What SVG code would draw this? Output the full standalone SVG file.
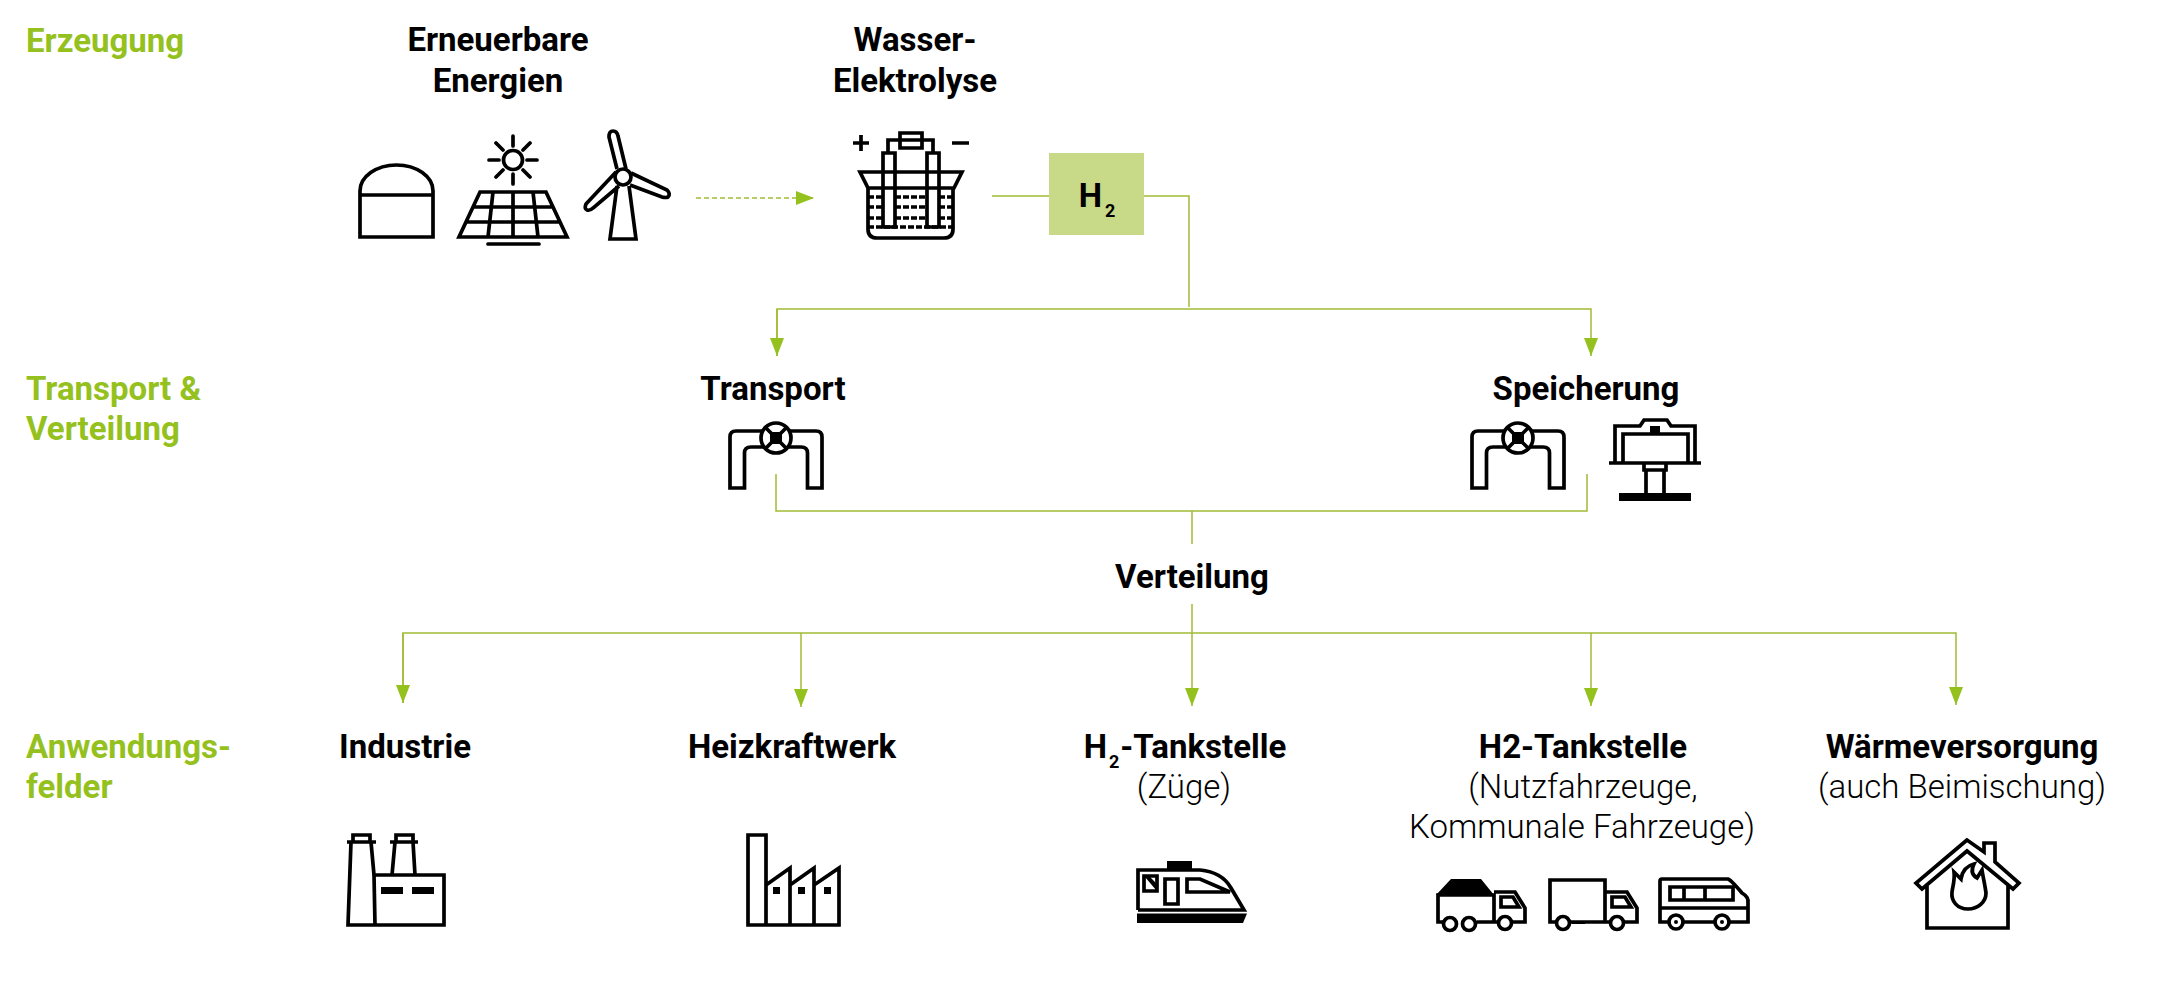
<svg xmlns="http://www.w3.org/2000/svg" width="2176" height="985" viewBox="0 0 2176 985">
<defs>
<marker id="ah" markerUnits="userSpaceOnUse" markerWidth="20" markerHeight="16" refX="18" refY="7" orient="auto"><path d="M0 0 L18 7 L0 14Z" fill="#95c11f"/></marker>
<g id="valve">
<path class="i" d="M762 431H736Q730 431 730 437V488H744.500V453Q744.500 447 751 447H763"/>
<path class="i" d="M790 431H816Q822 431 822 437V488H807.500V453Q807.500 447 801 447H789"/>
<circle class="i" cx="776" cy="438" r="15"/>
<path class="i" d="M765 427L787 449M787 427L765 449"/>
<rect x="770" y="432" width="12" height="12" fill="#000"/>
</g>
</defs>
<style>
text{font-family:Roboto,"Liberation Sans",sans-serif;font-size:33px;text-anchor:middle;fill:#000}
.b{font-weight:700}
.l{font-weight:300}
.g{font-weight:700;fill:#95c11f;text-anchor:start}
.i{fill:none;stroke:#000;stroke-width:3.700}
.r{stroke-linecap:round}
.k{fill:#000;stroke:none}
.c{fill:none;stroke:#a0bb35;stroke-width:1.500}
</style>
<rect width="2176" height="985" fill="#fff"/>
<g id="side-labels">
<text class="g" x="26" y="52">Erzeugung</text>
<text class="g" x="26" y="400">Transport &amp;</text>
<text class="g" x="26" y="440">Verteilung</text>
<text class="g" x="26" y="758">Anwendungs-</text>
<text class="g" x="26" y="798">felder</text>
</g>
<g id="connectors">
<path class="c" stroke-dasharray="5 3" d="M696 198H814" marker-end="url(#ah)"/>
<path class="c" d="M992 196H1049M1144 196H1189V307"/>
<path class="c" d="M777 356V309H1591V356" marker-end="url(#ah)"/>
<path class="c" d="M777 309V356" marker-end="url(#ah)"/>
<path class="c" d="M776 474V511H1587V474M1192 511V544"/>
<path class="c" d="M1192 604V706" marker-end="url(#ah)"/>
<path class="c" d="M403 703V633H1956V705" marker-end="url(#ah)"/>
<path class="c" d="M403 633V703" marker-end="url(#ah)"/>
<path class="c" d="M801 633V707" marker-end="url(#ah)"/>
<path class="c" d="M1591 633V706" marker-end="url(#ah)"/>
</g>
<g id="erneuerbare">
<text class="b" x="498" y="51">Erneuerbare</text>
<text class="b" x="498" y="92">Energien</text>
<path class="i" d="M360 237V195H433V237ZM360 195V191A36.500 26 0 0 1 433 191V195"/>
<circle class="i" cx="513" cy="160" r="9.500"/>
<path class="i r" d="M513 136V146M513 174V184M489 160H499M527 160H537M496 143L503 150M530 143L523 150M496 177L503 170M530 177L523 170"/>
<path class="i" d="M480 192H546L567 237H459ZM474 207H553M467 222H560M493 192L488 237M513 192V237M533 192L538 237"/>
<path class="i r" d="M488 244H539"/>
<circle class="i" cx="623" cy="177" r="8"/>
<path class="i" d="M617 169L609 137Q609 131 613 131Q617 131 618 136L626 169M631 173L667 190Q671 194 668 197Q666 198 662 197L630 185M616 172L586 204Q584 209 587 210Q590 211 593 208L619 186M617 186L610 239H636L629 186"/>
</g>
<g id="elektrolyse">
<text class="b" x="915" y="51">Wasser-</text>
<text class="b" x="915" y="92">Elektrolyse</text>
<path class="i" d="M853 143H869M861 135V151M952 143H969"/>
<path class="i" d="M888 152V140H933V152M900 133H922V148H900Z"/>
<path class="i" d="M883 153H895V227H883ZM927 153H939V227H927Z"/>
<path class="i" d="M860 172H962L954 188H868ZM895 172H927M868 188V229Q868 238 877 238H944Q953 238 953 229V188"/>
<path class="i" stroke-dasharray="6 2" d="M868 197H883M895 197H927M939 197H953M868 207H883M895 207H927M939 207H953M868 218H883M895 218H927M939 218H953M868 227H953"/>
</g>
<g id="h2">
<rect x="1049" y="153" width="95" height="82" fill="#c8d987"/>
<text class="b" x="1097" y="207">H<tspan font-size="18" dx="3" dy="10">2</tspan></text>
</g>
<g id="transport">
<text class="b" x="773" y="400">Transport</text>
<use href="#valve"/>
</g>
<g id="speicherung">
<text class="b" x="1586" y="400">Speicherung</text>
<use href="#valve" x="742"/>
<path class="i" d="M1615 463V426H1640L1644 420H1667L1671 426H1695V463M1623 463V434H1688V463M1609 463H1701"/>
<path class="i" d="M1644 463V470H1646V493M1666 463V470H1664V493M1646 470H1664"/>
<rect class="k" x="1650" y="426" width="10" height="8"/>
<rect class="k" x="1619" y="493" width="72" height="8"/>
</g>
<g id="verteilung">
<text class="b" x="1192" y="588">Verteilung</text>
</g>
<g id="industrie">
<text class="b" x="405" y="758">Industrie</text>
<path class="i" d="M347 842H376M353 842V835H370V842M351 842L348 925H444V875H374L371 842M374 875L375 925M390 842H418M396 842V835H413V842M395 842L392 875M413 842L415 875"/>
<rect class="k" x="381" y="887" width="22" height="7"/>
<rect class="k" x="412" y="887" width="22" height="7"/>
</g>
<g id="heizkraftwerk">
<text class="b" x="792" y="758">Heizkraftwerk</text>
<path class="i" d="M748 925V835H766V925ZM766 885L790 868V925M790 885L814 868V925M814 885L839 868V925H748"/>
<rect class="k" x="773" y="887" width="7" height="7"/>
<rect class="k" x="798" y="887" width="7" height="7"/>
<rect class="k" x="824" y="887" width="7" height="7"/>
</g>
<g id="tankstelle-zuege">
<text class="b" x="1185" y="758">H<tspan font-size="18" dx="2" dy="10">2</tspan><tspan dx="1" dy="-10">-Tankstelle</tspan></text>
<text class="l" x="1184" y="798">(Züge)</text>
<rect class="k" x="1167" y="861" width="25" height="8"/>
<path class="i" d="M1138 910V870H1200Q1222 872 1231 888L1244 910H1138"/>
<path class="k" d="M1137 913.500H1247L1243 923H1137Z"/>
<path class="i" d="M1144 876H1157V891H1144ZM1165 879H1178V904H1165ZM1187 879H1200L1230 892H1187Z"/>
<path class="k" d="M1145 877H1150L1156 883V890Z"/>
</g>
<g id="tankstelle-nutz">
<text class="b" x="1583" y="758">H2-Tankstelle</text>
<text class="l" x="1583" y="798">(Nutzfahrzeuge,</text>
<text class="l" x="1582" y="838">Kommunale Fahrzeuge)</text>
<path class="k" d="M1436 895L1451 879H1481L1494 895Z"/>
<path class="i" d="M1443 922H1438V895H1494V922H1498M1494 892H1515L1525 908V922H1513M1477 922H1497M1501 897H1513L1519 907H1501Z"/>
<circle class="i" cx="1450" cy="924" r="6.500"/>
<circle class="i" cx="1469" cy="924" r="6.500"/>
<circle class="i" cx="1505" cy="923" r="6.500"/>
<path class="i" d="M1556 922H1550V880H1605V922H1570M1605 892H1627L1637 908V922H1625M1605 922H1610M1612 897H1625L1631 907H1612Z"/>
<rect class="k" x="1572" y="921" width="13" height="3"/>
<circle class="i" cx="1563" cy="923" r="6.500"/>
<circle class="i" cx="1617" cy="923" r="6.500"/>
<path class="i" d="M1668 922H1660V881Q1660 879 1662 879H1728Q1731 880 1742 893Q1749 897 1748 903V922H1730M1684 922H1714M1660 908H1748M1670 887H1733V900H1670ZM1684 887V900M1705 887V900"/>
<circle class="i" cx="1676" cy="922" r="7"/>
<circle class="i" cx="1722" cy="922" r="7"/>
<circle class="k" cx="1676" cy="922" r="2"/>
<circle class="k" cx="1722" cy="922" r="2"/>
</g>
<g id="waerme">
<text class="b" x="1962" y="758">Wärmeversorgung</text>
<text class="l" x="1962" y="798">(auch Beimischung)</text>
<path class="i" d="M1927 885V928H2008V885M1967 840L1916 883L1922 889L1967 851L2013 889L2019 883L1995 862V843H1984V852L1967 840Z"/>
<path class="i" d="M1968 909C1957 909 1951 901 1952 892C1953 885 1955 880 1954 872L1961 879C1962 872 1966 866 1974 864C1971 870 1972 875 1977 878L1982 870C1983 877 1985 885 1986 893C1986 902 1978 909 1968 909Z"/>
</g>
</svg>
